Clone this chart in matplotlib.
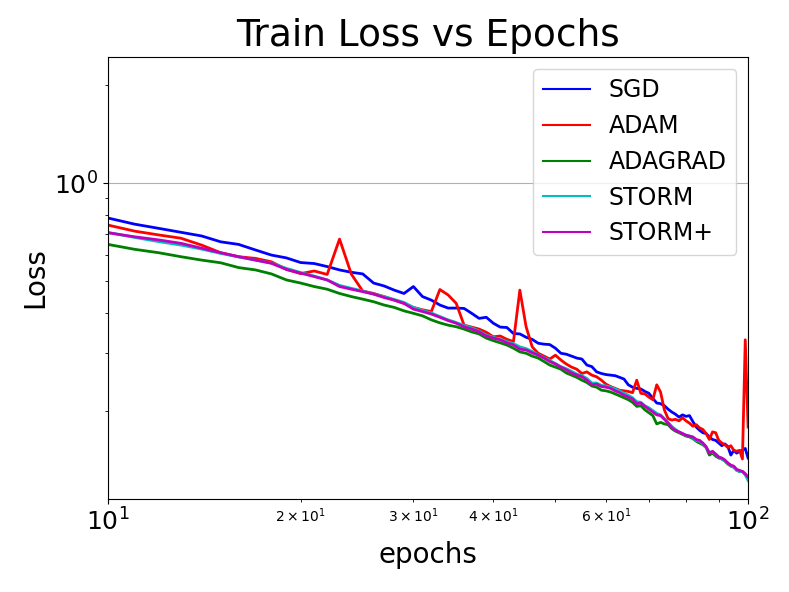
import numpy as np
import matplotlib
matplotlib.use("Agg")
import matplotlib.pyplot as plt

epochs = np.arange(10, 101)

sgd = [0.781, 0.748, 0.726, 0.706, 0.688, 0.660, 0.648, 0.623, 0.601, 0.589,
       0.570, 0.566, 0.554, 0.541, 0.532, 0.526, 0.493, 0.483, 0.469, 0.458,
       0.481, 0.448, 0.437, 0.422, 0.413, 0.413, 0.412, 0.398, 0.384, 0.387,
       0.371, 0.361, 0.360, 0.345, 0.344, 0.336, 0.331, 0.322, 0.320, 0.319,
       0.311, 0.300, 0.298, 0.294, 0.290, 0.288, 0.276, 0.273, 0.263, 0.260,
       0.258, 0.257, 0.256, 0.253, 0.250, 0.240, 0.236, 0.234, 0.233, 0.229,
       0.226, 0.218, 0.211, 0.210, 0.207, 0.202, 0.198, 0.195, 0.191, 0.194,
       0.192, 0.193, 0.185, 0.178, 0.174, 0.171, 0.170, 0.166, 0.163, 0.162,
       0.159, 0.156, 0.158, 0.155, 0.146, 0.151, 0.148, 0.150, 0.151, 0.153,
       0.143]

adam = [0.743, 0.712, 0.693, 0.677, 0.645, 0.611, 0.594, 0.587, 0.573, 0.543,
        0.527, 0.537, 0.524, 0.673, 0.525, 0.466, 0.458, 0.448, 0.437, 0.427,
        0.415, 0.408, 0.403, 0.471, 0.453, 0.427, 0.366, 0.361, 0.356, 0.348,
        0.337, 0.339, 0.331, 0.326, 0.469, 0.362, 0.314, 0.300, 0.294, 0.288,
        0.296, 0.286, 0.278, 0.272, 0.268, 0.260, 0.263, 0.257, 0.254, 0.248,
        0.241, 0.237, 0.234, 0.231, 0.230, 0.229, 0.227, 0.248, 0.226, 0.225,
        0.220, 0.216, 0.240, 0.228, 0.201, 0.189, 0.187, 0.188, 0.186, 0.190,
        0.186, 0.183, 0.179, 0.181, 0.177, 0.175, 0.170, 0.163, 0.172, 0.171,
        0.162, 0.159, 0.157, 0.154, 0.156, 0.151, 0.150, 0.151, 0.142, 0.330,
        0.178]

adagrad = [0.648, 0.626, 0.611, 0.594, 0.580, 0.569, 0.550, 0.541, 0.526, 0.504,
           0.493, 0.481, 0.472, 0.458, 0.448, 0.440, 0.432, 0.422, 0.415, 0.405,
           0.398, 0.391, 0.380, 0.372, 0.366, 0.362, 0.356, 0.349, 0.344, 0.334,
           0.328, 0.323, 0.318, 0.311, 0.303, 0.300, 0.294, 0.290, 0.283, 0.276,
           0.272, 0.268, 0.261, 0.257, 0.253, 0.248, 0.244, 0.238, 0.236, 0.231,
           0.230, 0.228, 0.225, 0.222, 0.219, 0.216, 0.212, 0.206, 0.207, 0.201,
           0.197, 0.193, 0.182, 0.184, 0.182, 0.181, 0.176, 0.173, 0.171, 0.169,
           0.167, 0.166, 0.164, 0.161, 0.159, 0.157, 0.154, 0.146, 0.148, 0.145,
           0.143, 0.142, 0.140, 0.137, 0.135, 0.134, 0.131, 0.130, 0.130, 0.127,
           0.124]

storm = [0.705, 0.681, 0.661, 0.645, 0.627, 0.608, 0.593, 0.580, 0.568, 0.547,
         0.531, 0.518, 0.504, 0.485, 0.475, 0.466, 0.456, 0.448, 0.439, 0.430,
         0.415, 0.406, 0.399, 0.389, 0.380, 0.373, 0.365, 0.359, 0.351, 0.341,
         0.336, 0.331, 0.326, 0.321, 0.314, 0.310, 0.304, 0.297, 0.291, 0.285,
         0.279, 0.273, 0.269, 0.264, 0.259, 0.256, 0.251, 0.243, 0.243, 0.239,
         0.238, 0.236, 0.233, 0.230, 0.226, 0.223, 0.219, 0.213, 0.212, 0.207,
         0.204, 0.200, 0.196, 0.194, 0.189, 0.184, 0.179, 0.175, 0.172, 0.170,
         0.168, 0.167, 0.165, 0.162, 0.161, 0.158, 0.154, 0.149, 0.149, 0.147,
         0.144, 0.142, 0.140, 0.138, 0.135, 0.134, 0.131, 0.130, 0.130, 0.127,
         0.122]

storm_plus = [0.704, 0.684, 0.669, 0.653, 0.631, 0.611, 0.594, 0.580, 0.567, 0.543,
              0.529, 0.516, 0.504, 0.481, 0.472, 0.464, 0.456, 0.445, 0.437, 0.427,
              0.410, 0.403, 0.396, 0.387, 0.378, 0.371, 0.362, 0.356, 0.349, 0.339,
              0.334, 0.330, 0.323, 0.318, 0.309, 0.307, 0.301, 0.296, 0.290, 0.283,
              0.278, 0.272, 0.267, 0.261, 0.257, 0.254, 0.248, 0.240, 0.241, 0.237,
              0.236, 0.234, 0.230, 0.227, 0.223, 0.220, 0.217, 0.210, 0.211, 0.206,
              0.202, 0.198, 0.194, 0.193, 0.188, 0.183, 0.177, 0.174, 0.172, 0.170,
              0.168, 0.167, 0.166, 0.163, 0.162, 0.159, 0.155, 0.148, 0.150, 0.147,
              0.144, 0.143, 0.141, 0.138, 0.136, 0.135, 0.132, 0.131, 0.130, 0.128,
              0.125]

series = [("SGD", sgd, "b"), ("ADAM", adam, "r"), ("ADAGRAD", adagrad, "g"),
          ("STORM", storm, "c"), ("STORM+", storm_plus, "m")]

fig = plt.figure(figsize=(7.89, 5.92), dpi=100)
ax = fig.add_axes([0.1369, 0.1571, 0.8112, 0.7466])

for name, vals, col in series:
    ax.plot(epochs, vals, col, linewidth=2, label=name)

ax.set_xscale("log")
ax.set_yscale("log")
ax.set_xlim(10, 100)
ax.set_ylim(0.107, 2.44)
ax.grid(True)
ax.tick_params(which="major", labelsize=18)
ax.set_title("Train Loss vs Epochs", fontsize=27, pad=8)
ax.set_xlabel("epochs", fontsize=20)
ax.set_ylabel("Loss", fontsize=20)
leg = ax.legend(loc="upper right", fontsize=17)
for line in leg.get_lines():
    line.set_linewidth(1.5)

fig.savefig("out.png", dpi=100)
